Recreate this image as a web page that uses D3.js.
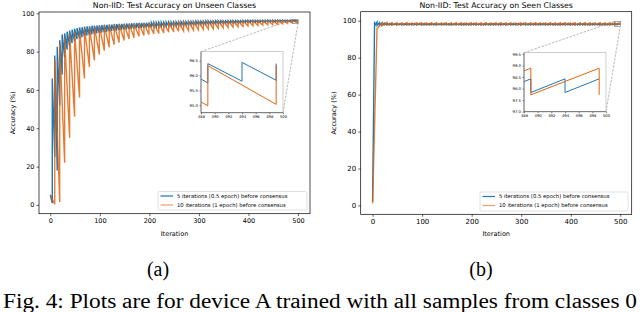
<!DOCTYPE html>
<html>
<head>
<meta charset="utf-8">
<script src="https://cdn.jsdelivr.net/npm/d3@7"></script>
<style>
  body { margin: 0; background: #fff; }
  svg { display: block; }
  text { font-family: "DejaVu Sans", sans-serif; fill: #000; }
  .cap { font-family: "Liberation Serif", "Times New Roman", serif; }
</style>
</head>
<body>
<svg id="fig" width="640" height="312"></svg>
<script>
// ---- data ----
// iterations between consensus steps
var blueEvery = 5;
var orangeEvery = 10;

var xTicks = [0, 100, 200, 300, 400, 500];
var yTicks = [0, 20, 40, 60, 80, 100];
var insetXTicks = [488, 490, 492, 494, 496, 498, 500];
var unseenInsetYTicks = [95.0, 95.5, 96.0, 96.5];
var seenInsetYTicks = [97.0, 97.5, 98.0, 98.5, 99.0, 99.5];

var legendLabels = ["5 iterations (0.5 epoch) before consensus", "10 iterations (1 epoch) before consensus"];

// unseen classes: value right after each consensus (peaks) and just before next one (troughs)
var unseenBluePeaks = [5.2, 66.0, 78.0, 82.5, 86.0, 89.0, 89.6, 90.4, 91.0, 91.5,
  92.0, 92.3, 92.6, 92.8, 93.0, 93.2, 93.3, 93.5, 93.6, 93.7,
  93.8, 93.9, 94.0, 94.1, 94.2, 94.2, 94.4, 94.4, 94.5, 94.5,
  94.6, 94.7, 94.7, 94.8, 94.8, 94.9, 95.0, 95.0, 95.1, 95.1,
  95.2, 95.2, 95.3, 95.3, 95.3, 95.4, 95.4, 95.5, 95.5, 95.5,
  95.6, 95.6, 95.6, 95.7, 95.7, 95.7, 95.8, 95.8, 95.8, 95.9,
  95.9, 95.9, 95.9, 96.0, 96.0, 96.0, 96.0, 96.1, 96.1, 96.1,
  96.1, 96.1, 96.2, 96.2, 96.2, 96.2, 96.2, 96.2, 96.3, 96.3,
  96.3, 96.3, 96.3, 96.3, 96.3, 96.4, 96.4, 96.4, 96.4, 96.4,
  96.4, 96.4, 96.4, 96.4, 96.4, 96.4, 96.4, 96.4, 96.40, 96.44, 96.40];
var unseenBlueTroughs = [1.0, 25.0, 18.0, 52.0, 68.0, 77.0, 81.0, 83.0, 84.5, 85.5,
  86.5, 87.0, 87.5, 88.0, 88.4, 88.7, 89.0, 89.3, 89.6, 89.8,
  90.0, 90.2, 90.4, 90.6, 90.8, 91.0, 91.1, 91.3, 91.4, 91.6,
  91.7, 91.8, 92.0, 92.1, 92.2, 92.3, 92.4, 92.5, 92.6, 92.7,
  92.8, 92.9, 93.0, 93.1, 93.2, 93.2, 93.3, 93.4, 93.5, 93.5,
  93.6, 93.7, 93.8, 93.8, 93.9, 94.0, 94.0, 94.1, 94.2, 94.2,
  94.3, 94.4, 94.4, 94.5, 94.5, 94.6, 94.7, 94.7, 94.8, 94.8,
  94.9, 94.9, 95.0, 95.0, 95.1, 95.1, 95.2, 95.2, 95.3, 95.3,
  95.3, 95.4, 95.4, 95.4, 95.5, 95.5, 95.5, 95.6, 95.6, 95.6,
  95.6, 95.65, 95.7, 95.7, 95.7, 95.72, 95.74, 95.75, 95.81, 95.84];
var unseenOrangePeaks = [5.2, 76.0, 84.0, 87.5, 89.5, 90.5, 91.3, 92.0, 92.5, 93.0,
  93.3, 93.6, 93.8, 94.0, 94.2, 94.4, 94.5, 94.6, 94.7, 94.8,
  94.9, 95.0, 95.1, 95.2, 95.3, 95.4, 95.4, 95.5, 95.6, 95.6,
  95.7, 95.7, 95.8, 95.8, 95.9, 95.9, 96.0, 96.0, 96.0, 96.1,
  96.1, 96.1, 96.2, 96.2, 96.2, 96.2, 96.3, 96.3, 96.3, 96.33, 96.33];
var unseenOrangeTroughs = [0.3, 1.5, 22.0, 35.0, 46.0, 56.0, 66.0, 72.0, 75.5, 78.5,
  80.5, 82.3, 83.6, 84.8, 85.8, 86.6, 87.3, 87.9, 88.4, 88.8,
  89.2, 89.5, 89.8, 90.1, 90.3, 90.6, 90.8, 91.0, 91.2, 91.4,
  91.6, 91.8, 92.0, 92.2, 92.4, 92.6, 92.8, 93.0, 93.2, 93.4,
  93.5, 93.7, 93.8, 94.0, 94.1, 94.3, 94.5, 94.7, 94.98, 95.03];

// seen classes: value right after consensus (lows) and just before the next one (highs)
var seenBlueLows = [2.0, 97.2, 97.5, 97.7, 97.8, 97.8, 97.9, 97.8, 97.8, 97.9,
  97.8, 97.9, 97.8, 97.8, 97.9, 97.8, 97.9, 97.8, 97.8, 97.9,
  97.8, 97.8, 97.9, 97.8, 97.9, 97.8, 97.8, 97.9, 97.8, 97.9,
  97.9, 97.8, 97.8, 97.9, 97.8, 97.9, 97.8, 97.8, 97.9, 97.8,
  97.8, 97.9, 97.8, 97.9, 97.8, 97.8, 97.9, 97.8, 97.9, 97.8,
  97.9, 97.8, 97.8, 97.9, 97.8, 97.9, 97.8, 97.8, 97.9, 97.8,
  97.8, 97.9, 97.8, 97.8, 97.9, 97.8, 97.9, 97.8, 97.8, 97.9,
  97.8, 97.8, 97.9, 97.8, 97.9, 97.8, 97.8, 97.9, 97.8, 97.9,
  97.8, 97.9, 97.8, 97.8, 97.9, 97.8, 97.9, 97.8, 97.8, 97.8,
  97.9, 97.8, 97.8, 97.9, 97.8, 97.8, 97.9, 97.83, 97.83, 97.83];
var seenBlueHighs = [99.6, 99.3, 99.0, 98.8, 98.7, 98.6, 98.5, 98.5, 98.4, 98.5,
  98.4, 98.5, 98.4, 98.5, 98.4, 98.4, 98.5, 98.4, 98.5, 98.4,
  98.5, 98.4, 98.4, 98.5, 98.4, 98.5, 98.4, 98.4, 98.5, 98.4,
  98.4, 98.5, 98.4, 98.5, 98.4, 98.4, 98.5, 98.4, 98.5, 98.4,
  98.5, 98.4, 98.4, 98.5, 98.4, 98.5, 98.4, 98.4, 98.5, 98.4,
  98.4, 98.5, 98.4, 98.5, 98.4, 98.4, 98.5, 98.4, 98.5, 98.4,
  98.5, 98.4, 98.4, 98.5, 98.4, 98.5, 98.4, 98.4, 98.5, 98.4,
  98.4, 98.5, 98.4, 98.5, 98.4, 98.4, 98.5, 98.4, 98.5, 98.4,
  98.5, 98.4, 98.4, 98.5, 98.4, 98.5, 98.4, 98.4, 98.5, 98.4,
  98.4, 98.5, 98.4, 98.5, 98.4, 98.4, 98.4, 98.42, 98.42, 98.42];
var seenOrangeLows = [1.0, 95.8, 97.3, 97.6, 97.7, 97.7, 97.8, 97.7, 97.7, 97.8,
  97.7, 97.7, 97.8, 97.7, 97.8, 97.7, 97.7, 97.8, 97.7, 97.7,
  97.8, 97.7, 97.7, 97.8, 97.7, 97.8, 97.7, 97.7, 97.8, 97.7,
  97.7, 97.8, 97.7, 97.7, 97.8, 97.7, 97.8, 97.7, 97.7, 97.8,
  97.7, 97.7, 97.8, 97.7, 97.7, 97.8, 97.7, 97.7, 97.73, 97.73, 97.73];
var seenOrangeHighs = [96.2, 98.9, 99.0, 98.9, 98.9, 98.8, 98.9, 98.8, 98.9, 98.9,
  98.8, 98.9, 98.9, 98.8, 98.9, 98.8, 98.9, 98.9, 98.8, 98.9,
  98.9, 98.8, 98.9, 98.8, 98.9, 98.9, 98.8, 98.9, 98.8, 98.9,
  98.9, 98.8, 98.9, 98.9, 98.8, 98.9, 98.8, 98.9, 98.9, 98.8,
  98.9, 98.8, 98.9, 98.9, 98.8, 98.9, 98.8, 98.9, 98.88, 98.88];

var blueColor = "#1f77b4";
var orangeColor = "#df5f0a";

// start value, then for each consensus step: value before it, value after it
function sawtooth(startVals, endVals, every) {
  var pts = [[0, startVals[0]]];
  for (var k = 0; k < endVals.length; k++) {
    var c = every * (k + 1) - 1;
    pts.push([c, endVals[k]]);
    if (k + 1 < startVals.length) pts.push([c, startVals[k + 1]]);
  }
  return pts;
}

var svg = d3.select("#fig");

function drawPanel(p) {
  var g = svg.append("g");
  var x = d3.scaleLinear().domain(p.xDom).range([p.left, p.right]);
  var y = d3.scaleLinear().domain(p.yDom).range([p.bottom, p.top]);
  var line = d3.line().x(function(d) { return x(d[0]); }).y(function(d) { return y(d[1]); });

  var clipId = "clip" + p.id;
  svg.append("clipPath").attr("id", clipId).append("rect")
    .attr("x", p.left).attr("y", p.top).attr("width", p.right - p.left).attr("height", p.bottom - p.top);

  var series = [
    {pts: p.blue, color: blueColor, op: 1, legOp: 1},
    {pts: p.orange, color: orangeColor, op: 0.82, legOp: 0.6}
  ];
  series.forEach(function(s) {
    g.append("path").attr("d", line(s.pts)).attr("clip-path", "url(#" + clipId + ")")
      .attr("fill", "none").attr("stroke", s.color).attr("stroke-opacity", s.op)
      .attr("stroke-width", 1.4).attr("stroke-linejoin", "miter");
  });

  // axes
  var xa = g.append("g").attr("transform", "translate(0," + p.bottom + ")")
    .call(d3.axisBottom(x).tickValues(xTicks).tickSize(2.5).tickPadding(2).tickFormat(d3.format("d")));
  var ya = g.append("g").attr("transform", "translate(" + p.left + ",0)")
    .call(d3.axisLeft(y).tickValues(yTicks).tickSize(2.5).tickPadding(2).tickFormat(d3.format("d")));
  [xa, ya].forEach(function(a) {
    a.select(".domain").remove();
    a.selectAll("line").attr("stroke", "#000").attr("stroke-width", 0.6);
    a.selectAll("text").attr("font-size", p.tickSize).attr("font-family", "DejaVu Sans");
  });
  g.append("rect").attr("x", p.left).attr("y", p.top).attr("width", p.right - p.left).attr("height", p.bottom - p.top)
    .attr("fill", "none").attr("stroke", "#000").attr("stroke-width", 0.7);

  // title and labels
  g.append("text").attr("x", (p.left + p.right) / 2).attr("y", 7.5).attr("text-anchor", "middle")
    .attr("font-size", 7.8).text(p.title);
  g.append("text").attr("x", (p.left + p.right) / 2).attr("y", 236).attr("text-anchor", "middle")
    .attr("font-size", 6.5).text("Iteration");
  g.append("text").attr("transform", "translate(" + p.ylabX + "," + ((p.top + p.bottom) / 2) + ") rotate(-90)")
    .attr("text-anchor", "middle").attr("font-size", 6.5).text("Accuracy (%)");

  // zoom inset
  var ins = p.inset;
  var ix = d3.scaleLinear().domain(ins.xDom).range([ins.left, ins.right]);
  var iy = d3.scaleLinear().domain(ins.yDom).range([ins.bottom, ins.top]);
  var iline = d3.line().x(function(d) { return ix(d[0]); }).y(function(d) { return iy(d[1]); });

  // zoom rectangle on the main axes and connectors
  var rx0 = x(ins.xDom[0]), rx1 = x(ins.xDom[1]), ry0 = y(ins.yDom[1]), ry1 = y(ins.yDom[0]);
  g.append("rect").attr("x", rx0).attr("y", ry0).attr("width", rx1 - rx0).attr("height", ry1 - ry0)
    .attr("fill", "none").attr("stroke", "#777").attr("stroke-width", 0.6);
  g.append("line").attr("x1", ins.left).attr("y1", ins.top).attr("x2", rx0).attr("y2", ry0)
    .attr("stroke", "#888").attr("stroke-width", 0.6).attr("stroke-dasharray", "2.5,1.2");
  g.append("line").attr("x1", ins.right).attr("y1", ins.bottom).attr("x2", rx1).attr("y2", ry1)
    .attr("stroke", "#888").attr("stroke-width", 0.6).attr("stroke-dasharray", "2.5,1.2");

  g.append("rect").attr("x", ins.left).attr("y", ins.top).attr("width", ins.right - ins.left)
    .attr("height", ins.bottom - ins.top).attr("fill", "#fff");
  var iclip = "iclip" + p.id;
  svg.append("clipPath").attr("id", iclip).append("rect")
    .attr("x", ins.left).attr("y", ins.top).attr("width", ins.right - ins.left).attr("height", ins.bottom - ins.top);
  series.forEach(function(s) {
    g.append("path").attr("d", iline(s.pts)).attr("clip-path", "url(#" + iclip + ")")
      .attr("fill", "none").attr("stroke", s.color).attr("stroke-opacity", Math.min(1, s.op + 0.15))
      .attr("stroke-width", 1.0);
  });
  var ixa = g.append("g").attr("transform", "translate(0," + ins.bottom + ")")
    .call(d3.axisBottom(ix).tickValues(insetXTicks).tickSize(1.5).tickPadding(1.5).tickFormat(d3.format("d")));
  var iya = g.append("g").attr("transform", "translate(" + ins.left + ",0)")
    .call(d3.axisLeft(iy).tickValues(ins.yTicks).tickSize(1.5).tickPadding(1.5).tickFormat(d3.format(".1f")));
  [ixa, iya].forEach(function(a) {
    a.select(".domain").remove();
    a.selectAll("line").attr("stroke", "#000").attr("stroke-width", 0.5);
    a.selectAll("text").attr("font-size", 3.8).attr("font-family", "DejaVu Sans");
  });
  g.append("rect").attr("x", ins.left).attr("y", ins.top).attr("width", ins.right - ins.left)
    .attr("height", ins.bottom - ins.top).attr("fill", "none").attr("stroke", "#aaa").attr("stroke-width", 0.6);
  g.append("line").attr("x1", ins.left).attr("y1", ins.top).attr("x2", ins.left).attr("y2", ins.bottom)
    .attr("stroke", "#333").attr("stroke-width", 0.6);
  g.append("line").attr("x1", ins.left).attr("y1", ins.bottom).attr("x2", ins.right).attr("y2", ins.bottom)
    .attr("stroke", "#333").attr("stroke-width", 0.6);

  // legend
  var lg = p.legend;
  g.append("rect").attr("x", lg.x).attr("y", lg.y).attr("width", lg.w).attr("height", lg.h)
    .attr("rx", 1.5).attr("fill", "#fff").attr("fill-opacity", 0.85).attr("stroke", "#ccc").attr("stroke-width", 0.6);
  legendLabels.forEach(function(lab, i) {
    var yy = lg.y + 4.5 + i * 9;
    g.append("line").attr("x1", lg.x + 2.5).attr("x2", lg.x + 15).attr("y1", yy).attr("y2", yy)
      .attr("stroke", series[i].color).attr("stroke-opacity", series[i].legOp).attr("stroke-width", 1.2);
    g.append("text").attr("x", lg.x + 19).attr("y", yy + 1.9).attr("font-size", 5.3).text(lab);
  });
}

drawPanel({
  id: "a", left: 39, right: 310, top: 12, bottom: 213.7, xDom: [-22.8, 524.2], yDom: [-4.6, 100.7],
  title: "Non-IID: Test Accuracy on Unseen Classes", ylabX: 14.5, tickSize: 6.5,
  blue: sawtooth(unseenBluePeaks, unseenBlueTroughs, blueEvery),
  orange: sawtooth(unseenOrangePeaks, unseenOrangeTroughs, orangeEvery),
  inset: {left: 201, right: 283, top: 51.7, bottom: 112.7, xDom: [488, 500], yDom: [94.75, 96.8], yTicks: unseenInsetYTicks},
  legend: {x: 158, y: 191.5, w: 149, h: 18.5}
});

drawPanel({
  id: "b", left: 360.7, right: 631.7, top: 11.7, bottom: 214.3, xDom: [-24, 523], yDom: [-4.8, 104.9],
  title: "Non-IID: Test Accuracy on Seen Classes", ylabX: 335.5, tickSize: 7,
  blue: sawtooth(seenBlueLows, seenBlueHighs, blueEvery),
  orange: sawtooth(seenOrangeLows, seenOrangeHighs, orangeEvery),
  inset: {left: 524, right: 606, top: 52.7, bottom: 111.7, xDom: [488, 500], yDom: [97.0, 99.55], yTicks: seenInsetYTicks},
  legend: {x: 480, y: 192, w: 148, h: 19}
});

// sub-captions and figure caption
svg.append("text").attr("class", "cap").attr("x", 158).attr("y", 276).attr("text-anchor", "middle")
  .attr("font-size", 20).text("(a)");
svg.append("text").attr("class", "cap").attr("x", 481).attr("y", 276).attr("text-anchor", "middle")
  .attr("font-size", 20).text("(b)");
svg.append("text").attr("class", "cap").attr("x", 3).attr("y", 308).attr("font-size", 20)
  .attr("textLength", 634).attr("lengthAdjust", "spacingAndGlyphs")
  .text("Fig. 4: Plots are for device A trained with all samples from classes 0");
</script>
</body>
</html>
